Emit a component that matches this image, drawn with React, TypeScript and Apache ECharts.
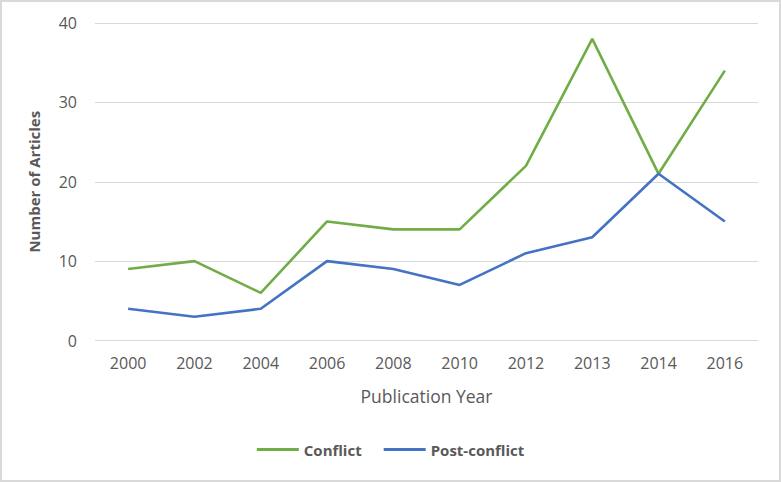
import React, { useEffect, useRef } from "react";
import * as echarts from "echarts";

const years = ["2000", "2002", "2004", "2006", "2008", "2010", "2012", "2013", "2014", "2016"];
const conflict = [9, 10, 6, 15, 14, 14, 22, 38, 21, 34];
const postConflict = [4, 3, 4, 10, 9, 7, 11, 13, 21, 15];
const yTicks = { min: 0, max: 40, interval: 10 };

export default function App() {
  const ref = useRef<HTMLDivElement>(null);
  useEffect(() => {
    if (!ref.current) return;
    const chart = echarts.init(ref.current, null, { renderer: "svg" });
    const font = "'Open Sans', 'Noto Sans', sans-serif";
    chart.setOption({
      animation: false,
      backgroundColor: "transparent",
      textStyle: { fontFamily: font },
      grid: { left: 95, right: 23, top: 23, bottom: 141.5, containLabel: false },
      legend: {
        bottom: 20,
        left: "center",
        itemWidth: 42,
        itemHeight: 3,
        itemGap: 22,
        icon: "rect",
        textStyle: { color: "#595959", fontSize: 15, fontWeight: "bold", fontFamily: font },
        data: ["Conflict", "Post-conflict"],
      },
      xAxis: {
        type: "category",
        data: years,
        boundaryGap: true,
        name: "Publication Year",
        nameLocation: "middle",
        nameGap: 46,
        nameTextStyle: { color: "#595959", fontSize: 17.5, fontFamily: font },
        axisLine: { show: false },
        axisTick: { show: false },
        axisLabel: { color: "#595959", fontSize: 16, margin: 14, fontFamily: font },
      },
      yAxis: {
        type: "value",
        min: yTicks.min,
        max: yTicks.max,
        interval: yTicks.interval,
        name: "Number of Articles",
        nameLocation: "middle",
        nameGap: 54,
        nameTextStyle: { color: "#595959", fontSize: 15, fontWeight: "bold", fontFamily: font },
        axisLine: { show: false },
        axisTick: { show: false },
        axisLabel: { color: "#595959", fontSize: 16, margin: 18, fontFamily: font },
        splitLine: { lineStyle: { color: "#d9d9d9", width: 1 } },
      },
      series: [
        {
          name: "Conflict",
          type: "line",
          data: conflict,
          symbol: "none",
          color: "#70ad47",
          lineStyle: { color: "#70ad47", width: 2.6 },
        },
        {
          name: "Post-conflict",
          type: "line",
          data: postConflict,
          symbol: "none",
          color: "#4472c4",
          lineStyle: { color: "#4472c4", width: 2.6 },
        },
      ],
    });
    return () => chart.dispose();
  }, []);
  return (
    <div
      style={{
        position: "fixed",
        left: 0,
        top: 0,
        width: 781,
        height: 482,
        boxSizing: "border-box",
        border: "2px solid #d9d9d9",
        background: "#fff",
      }}
    >
      <div ref={ref} style={{ position: "absolute", left: -2, top: -2, width: 781, height: 482 }} />
    </div>
  );
}
